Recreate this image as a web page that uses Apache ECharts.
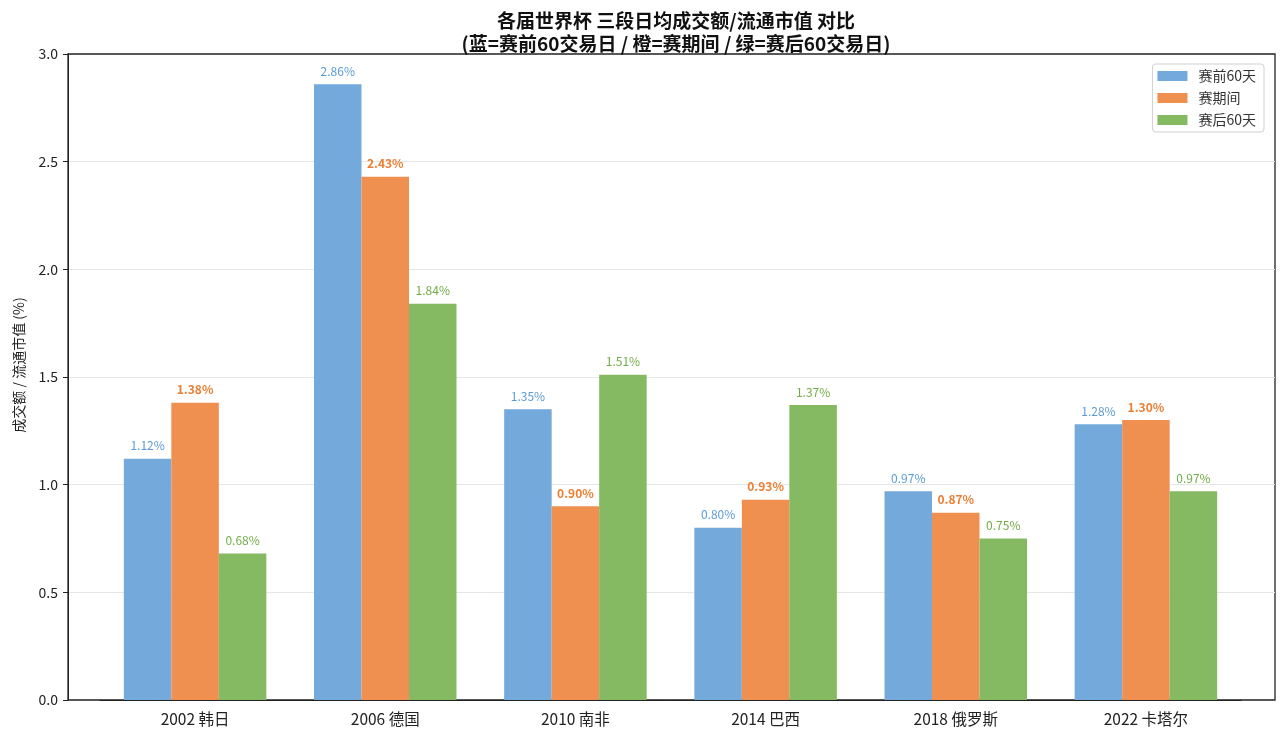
<!DOCTYPE html>
<html>
<head>
<meta charset="utf-8">
<script src="https://cdn.jsdelivr.net/npm/echarts@6/dist/echarts.min.js"></script>
<style>html,body{margin:0;padding:0;background:#fff;}#c{width:1280px;height:744px;}</style>
</head>
<body>
<div id="c"></div>
<script>
const categories = ['2002 韩日', '2006 德国', '2010 南非', '2014 巴西', '2018 俄罗斯', '2022 卡塔尔'];
const seriesNames = ['赛前60天', '赛期间', '赛后60天'];
const preValues = [1.12, 2.86, 1.35, 0.80, 0.97, 1.28];
const duringValues = [1.38, 2.43, 0.90, 0.93, 0.87, 1.30];
const postValues = [0.68, 1.84, 1.51, 1.37, 0.75, 0.97];
const yTicks = [0, 0.5, 1.0, 1.5, 2.0, 2.5, 3.0];

const FONT = '"Noto Sans CJK SC", "Noto Sans", sans-serif';
const barColors = ['#74aadb', '#f09050', '#85b962'];
const labelColors = ['#5b9bd5', '#ed7d31', '#70ad47'];
const labelWeights = ['normal', 'bold', 'normal'];
const allValues = [preValues, duringValues, postValues];

const chart = echarts.init(document.getElementById('c'));
const option = {
  backgroundColor: '#fff',
  animation: false,
  textStyle: { fontFamily: FONT },
  title: {
    text: '各届世界杯 三段日均成交额/流通市值 对比\n(蓝=赛前60交易日 / 橙=赛期间 / 绿=赛后60交易日)',
    left: 671, textAlign: 'center', top: 4,
    textStyle: { fontFamily: FONT, fontSize: 19, fontWeight: 'bold', color: '#111', lineHeight: 23 }
  },
  legend: {
    orient: 'vertical', right: 16, top: 64,
    data: seriesNames,
    icon: 'rect', itemWidth: 30, itemHeight: 10, itemGap: 8,
    padding: [5, 8, 5, 5],
    borderColor: '#d0d0d0', borderWidth: 1, borderRadius: 3,
    backgroundColor: 'rgba(255,255,255,0.85)',
    textStyle: { fontFamily: FONT, fontSize: 14, color: '#333', padding: [0, 0, 0, 6] }
  },
  grid: [
    { left: 68, right: 5, top: 54, bottom: 44, show: true, borderColor: '#222', borderWidth: 1.3, backgroundColor: 'transparent', containLabel: false },
    { left: 100, right: 39, top: 54, bottom: 44, containLabel: false }
  ],
  xAxis: [
    { type: 'value', gridIndex: 0, min: 0, max: 1, show: false },
    {
      type: 'category', gridIndex: 1, data: categories,
      axisLine: { lineStyle: { color: '#222', width: 1 } },
      axisTick: { alignWithLabel: true, length: 5, lineStyle: { color: '#222' } },
      axisLabel: { fontFamily: FONT, fontSize: 15.5, color: '#222', margin: 11 }
    }
  ],
  yAxis: [
    {
      type: 'value', gridIndex: 0, min: 0, max: 3, interval: 0.5,
      name: '成交额 / 流通市值 (%)', nameLocation: 'middle', nameGap: 42,
      nameTextStyle: { fontFamily: FONT, fontSize: 14, color: '#222', padding: [0, 0, 0, 24] },
      axisLine: { show: true, lineStyle: { color: '#222', width: 1 } },
      axisTick: { show: true, length: 5, lineStyle: { color: '#222' } },
      axisLabel: { fontFamily: FONT, fontSize: 14, color: '#222', margin: 10, formatter: v => v.toFixed(1) },
      splitLine: { show: true, showMinLine: false, showMaxLine: false, lineStyle: { color: '#e6e6e6', width: 1 } }
    },
    { type: 'value', gridIndex: 1, min: 0, max: 3, show: false, splitLine: { show: false } }
  ],
  series: seriesNames.map((name, i) => ({
    name, type: 'bar', xAxisIndex: 1, yAxisIndex: 1,
    data: allValues[i],
    barWidth: 47.5, barGap: '0%',
    itemStyle: { color: barColors[i] },
    label: {
      show: true, position: 'top', distance: 7,
      formatter: p => p.value.toFixed(2) + '%',
      fontFamily: FONT, fontSize: 12, color: labelColors[i], fontWeight: labelWeights[i]
    }
  }))
};
chart.setOption(option);
</script>
</body>
</html>
